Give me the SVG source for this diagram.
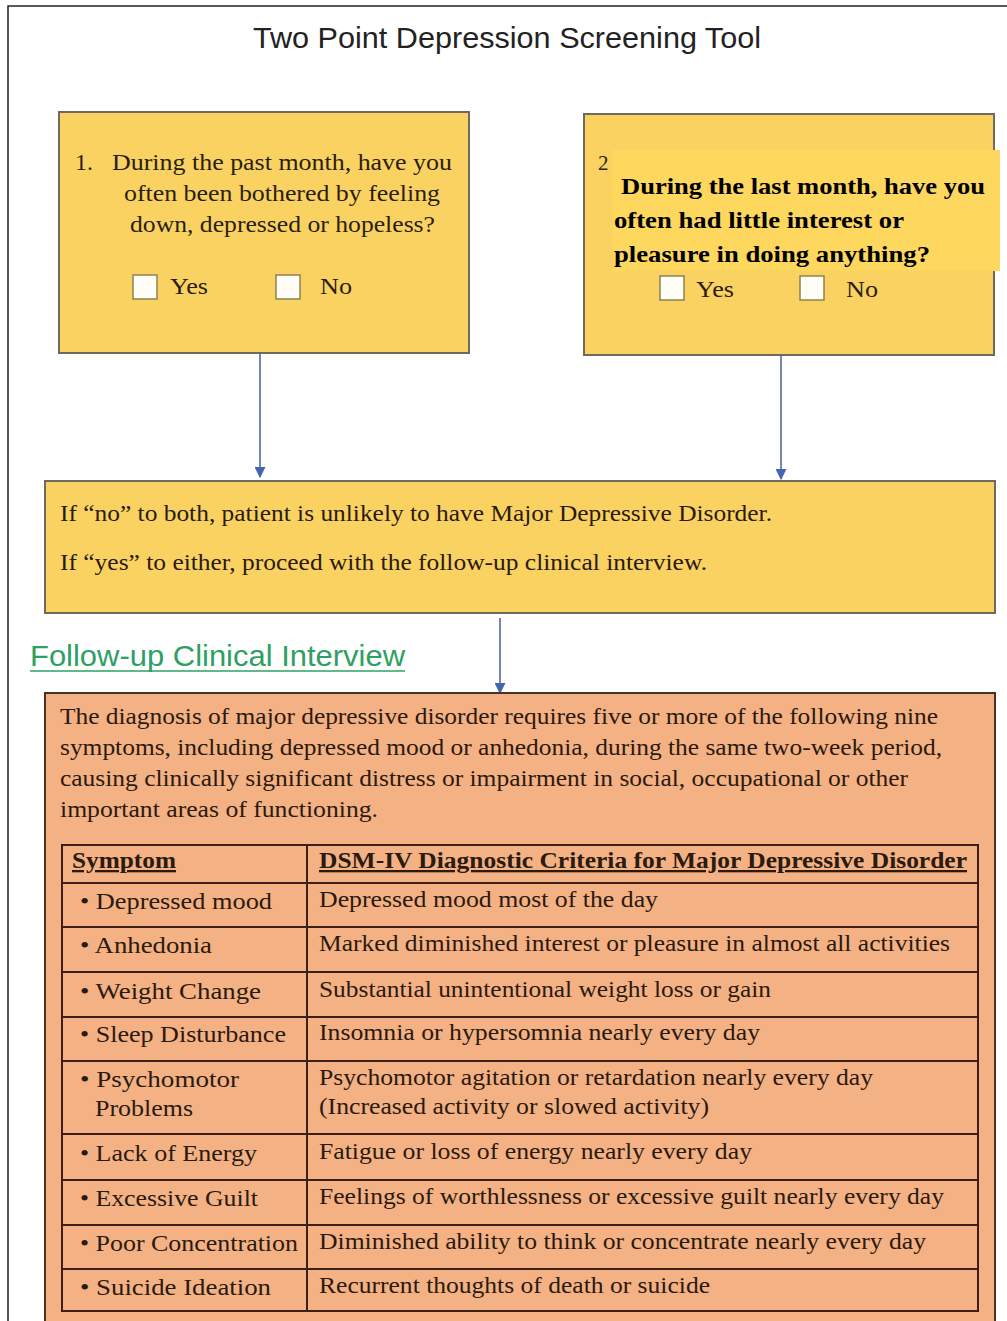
<svg xmlns="http://www.w3.org/2000/svg" width="1007" height="1321" viewBox="0 0 1007 1321">
<defs>
<style>
.serif{font-family:"Liberation Serif","Times New Roman",serif;fill:#2a1e10;}
.q{font-size:24px;}
.bold{font-family:"Liberation Serif","Times New Roman",serif;font-weight:bold;font-size:24px;fill:#000;}
.t{font-family:"Liberation Serif","Times New Roman",serif;font-size:24px;fill:#2a1a10;}
.th{font-family:"Liberation Serif","Times New Roman",serif;font-size:23px;font-weight:bold;fill:#2a1a10;text-decoration:underline;}
.ybox{fill:#FAD262;stroke:#6e6a60;stroke-width:2;}
.obox{fill:#F4B183;stroke:#4a3326;stroke-width:2;}
.cb{fill:#fffdf6;stroke:#8a8450;stroke-width:1.5;}
.grid{stroke:#3a1f18;stroke-width:2;fill:none;}
.conn{stroke:#4a5f9a;stroke-width:1.5;fill:none;}
</style>
<marker id="arr" viewBox="0 0 10 10" refX="9" refY="5" markerWidth="11" markerHeight="11" markerUnits="userSpaceOnUse" orient="auto">
<path d="M0,0 L10,5 L0,10 z" fill="#4466b0"/>
</marker>
</defs>
<rect x="0" y="0" width="1007" height="1321" fill="#ffffff"/>
<rect x="8" y="6" width="1020" height="1340" fill="none" stroke="#222" stroke-width="1.5"/>

<text x="507" y="48" text-anchor="middle" font-family="Liberation Sans Narrow, Liberation Sans, sans-serif" font-size="30" fill="#222" textLength="508" lengthAdjust="spacingAndGlyphs">Two Point Depression Screening Tool</text>

<g id="q1">
<rect class="ybox" x="59" y="112" width="410" height="241"/>
<text class="serif q" x="75" y="170">1.</text>
<text class="serif q" x="112" y="170" textLength="340" lengthAdjust="spacingAndGlyphs">During the past month, have you</text>
<text class="serif q" x="124" y="201" textLength="316" lengthAdjust="spacingAndGlyphs">often been bothered by feeling</text>
<text class="serif q" x="130" y="232" textLength="305" lengthAdjust="spacingAndGlyphs">down, depressed or hopeless?</text>
<rect class="cb" x="133" y="275" width="24" height="24"/>
<text class="serif q" x="170" y="294" textLength="38" lengthAdjust="spacingAndGlyphs">Yes</text>
<rect class="cb" x="276" y="275" width="24" height="24"/>
<text class="serif q" x="320" y="294" textLength="32" lengthAdjust="spacingAndGlyphs">No</text>
</g>

<g id="q2">
<rect class="ybox" x="584" y="114" width="410" height="241"/>
<rect x="612" y="150" width="388" height="121" fill="#FDD75E"/>
<text class="serif" font-size="21" x="598" y="170">2</text>
<text class="bold" x="621" y="194" textLength="364" lengthAdjust="spacingAndGlyphs">During the last month, have you</text>
<text class="bold" x="614" y="228" textLength="290" lengthAdjust="spacingAndGlyphs">often had little interest or</text>
<text class="bold" x="614" y="262" textLength="316" lengthAdjust="spacingAndGlyphs">pleasure in doing anything?</text>
<rect class="cb" x="660" y="276" width="24" height="24"/>
<text class="serif q" x="696" y="297" textLength="38" lengthAdjust="spacingAndGlyphs">Yes</text>
<rect class="cb" x="800" y="276" width="24" height="24"/>
<text class="serif q" x="846" y="297" textLength="32" lengthAdjust="spacingAndGlyphs">No</text>
</g>

<g id="result">
<rect class="ybox" x="45" y="481" width="950" height="132"/>
<text class="t" x="60" y="521" textLength="712" lengthAdjust="spacingAndGlyphs">If “no” to both, patient is unlikely to have Major Depressive Disorder.</text>
<text class="t" x="60" y="570" textLength="647" lengthAdjust="spacingAndGlyphs">If “yes” to either, proceed with the follow-up clinical interview.</text>
</g>

<g id="followup-title">
<text x="30" y="666" font-family="Liberation Sans Narrow, Liberation Sans, sans-serif" font-size="29" fill="#2fa063" textLength="375" lengthAdjust="spacingAndGlyphs">Follow-up Clinical Interview</text>
<line x1="30" y1="671" x2="405" y2="671" stroke="#2fa063" stroke-width="1.5"/>
</g>

<g id="connectors">
<line class="conn" x1="260" y1="353" x2="260" y2="477" marker-end="url(#arr)"/>
<line class="conn" x1="781" y1="355" x2="781" y2="479" marker-end="url(#arr)"/>
<line class="conn" x1="500" y1="618" x2="500" y2="693" marker-end="url(#arr)"/>
</g>

<g id="interview">
<rect class="obox" x="45" y="693" width="950" height="660"/>
<text class="t" x="60" y="724" textLength="878" lengthAdjust="spacingAndGlyphs">The diagnosis of major depressive disorder requires five or more of the following nine</text>
<text class="t" x="60" y="755" textLength="882" lengthAdjust="spacingAndGlyphs">symptoms, including depressed mood or anhedonia, during the same two-week period,</text>
<text class="t" x="60" y="786" textLength="848" lengthAdjust="spacingAndGlyphs">causing clinically  significant distress or impairment in social, occupational or other</text>
<text class="t" x="60" y="817" textLength="318" lengthAdjust="spacingAndGlyphs">important areas of functioning.</text>
</g>

<g id="table">
<rect class="grid" x="62" y="845" width="916" height="466"/>
<line class="grid" x1="307" y1="845" x2="307" y2="1311"/>
<line class="grid" x1="62" y1="883" x2="978" y2="883"/>
<line class="grid" x1="62" y1="927" x2="978" y2="927"/>
<line class="grid" x1="62" y1="972" x2="978" y2="972"/>
<line class="grid" x1="62" y1="1017" x2="978" y2="1017"/>
<line class="grid" x1="62" y1="1061" x2="978" y2="1061"/>
<line class="grid" x1="62" y1="1134" x2="978" y2="1134"/>
<line class="grid" x1="62" y1="1180" x2="978" y2="1180"/>
<line class="grid" x1="62" y1="1225" x2="978" y2="1225"/>
<line class="grid" x1="62" y1="1269" x2="978" y2="1269"/>

<text class="th" x="72" y="868" textLength="104" lengthAdjust="spacingAndGlyphs">Symptom</text>
<text class="th" x="319" y="868" textLength="648" lengthAdjust="spacingAndGlyphs">DSM-IV  Diagnostic Criteria for Major Depressive Disorder</text>

<text class="t" x="80" y="909" textLength="192" lengthAdjust="spacingAndGlyphs">• Depressed mood</text>
<text class="t" x="319" y="907" textLength="339" lengthAdjust="spacingAndGlyphs">Depressed mood most of the day</text>

<text class="t" x="80" y="953" textLength="132" lengthAdjust="spacingAndGlyphs">• Anhedonia</text>
<text class="t" x="319" y="951" textLength="631" lengthAdjust="spacingAndGlyphs">Marked diminished interest or pleasure in almost all activities</text>

<text class="t" x="80" y="999" textLength="181" lengthAdjust="spacingAndGlyphs">• Weight  Change</text>
<text class="t" x="319" y="997" textLength="452" lengthAdjust="spacingAndGlyphs">Substantial unintentional weight loss or gain</text>

<text class="t" x="80" y="1042" textLength="206" lengthAdjust="spacingAndGlyphs">• Sleep Disturbance</text>
<text class="t" x="319" y="1040" textLength="441" lengthAdjust="spacingAndGlyphs">Insomnia or hypersomnia nearly every day</text>

<text class="t" x="80" y="1087" textLength="159" lengthAdjust="spacingAndGlyphs">• Psychomotor</text>
<text class="t" x="95" y="1116" textLength="98" lengthAdjust="spacingAndGlyphs">Problems</text>
<text class="t" x="319" y="1085" textLength="554" lengthAdjust="spacingAndGlyphs">Psychomotor agitation or retardation nearly every day</text>
<text class="t" x="319" y="1114" textLength="390" lengthAdjust="spacingAndGlyphs">(Increased activity or slowed activity)</text>

<text class="t" x="80" y="1161" textLength="177" lengthAdjust="spacingAndGlyphs">• Lack of Energy</text>
<text class="t" x="319" y="1159" textLength="433" lengthAdjust="spacingAndGlyphs">Fatigue or loss of energy nearly every day</text>

<text class="t" x="80" y="1206" textLength="178" lengthAdjust="spacingAndGlyphs">• Excessive Guilt</text>
<text class="t" x="319" y="1204" textLength="625" lengthAdjust="spacingAndGlyphs">Feelings of worthlessness or excessive guilt nearly every day</text>

<text class="t" x="80" y="1251" textLength="218" lengthAdjust="spacingAndGlyphs">• Poor Concentration</text>
<text class="t" x="319" y="1249" textLength="607" lengthAdjust="spacingAndGlyphs">Diminished ability to think or concentrate nearly every day</text>

<text class="t" x="80" y="1295" textLength="191" lengthAdjust="spacingAndGlyphs">• Suicide Ideation</text>
<text class="t" x="319" y="1293" textLength="391" lengthAdjust="spacingAndGlyphs">Recurrent thoughts of death or suicide</text>
</g>
</svg>
